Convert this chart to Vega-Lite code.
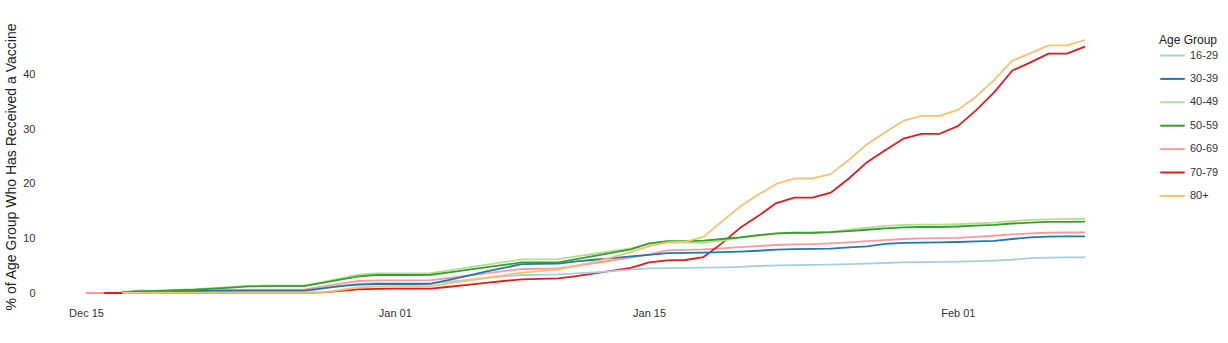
{
  "$schema": "https://vega.github.io/schema/vega-lite/v6.json",
  "width": 999,
  "height": 253,
  "autosize": "none",
  "padding": {"left": 86, "top": 40, "right": 143, "bottom": 50},
  "background": "white",
  "config": {
    "view": {"stroke": null},
    "font": "Liberation Sans"
  },
  "data": {
    "values": [
      {"date": "2020-12-15", "60-69": 0},
      {"date": "2020-12-16", "60-69": 0, "70-79": 0},
      {"date": "2020-12-17", "16-29": 0.1, "30-39": 0.1, "40-49": 0.1, "50-59": 0.1, "60-69": 0.1, "70-79": 0, "80+": 0},
      {"date": "2020-12-18", "16-29": 0.2, "30-39": 0.45, "40-49": 0.35, "50-59": 0.3, "60-69": 0.3, "70-79": 0.02, "80+": 0.02},
      {"date": "2020-12-19", "16-29": 0.25, "30-39": 0.4, "40-49": 0.45, "50-59": 0.4, "60-69": 0.35, "70-79": 0.03, "80+": 0.03},
      {"date": "2020-12-20", "16-29": 0.25, "30-39": 0.4, "40-49": 0.55, "50-59": 0.5, "60-69": 0.4, "70-79": 0.03, "80+": 0.03},
      {"date": "2020-12-21", "16-29": 0.3, "30-39": 0.4, "40-49": 0.7, "50-59": 0.6, "60-69": 0.45, "70-79": 0.03, "80+": 0.03},
      {"date": "2020-12-22", "16-29": 0.3, "30-39": 0.45, "40-49": 0.9, "50-59": 0.8, "60-69": 0.5, "70-79": 0.04, "80+": 0.04},
      {"date": "2020-12-23", "16-29": 0.3, "30-39": 0.45, "40-49": 1.1, "50-59": 1.0, "60-69": 0.55, "70-79": 0.04, "80+": 0.04},
      {"date": "2020-12-24", "16-29": 0.35, "30-39": 0.45, "40-49": 1.35, "50-59": 1.2, "60-69": 0.6, "70-79": 0.05, "80+": 0.05},
      {"date": "2020-12-25", "16-29": 0.35, "30-39": 0.45, "40-49": 1.4, "50-59": 1.25, "60-69": 0.6, "70-79": 0.05, "80+": 0.05},
      {"date": "2020-12-26", "16-29": 0.35, "30-39": 0.45, "40-49": 1.4, "50-59": 1.25, "60-69": 0.6, "70-79": 0.05, "80+": 0.05},
      {"date": "2020-12-27", "16-29": 0.35, "30-39": 0.45, "40-49": 1.4, "50-59": 1.25, "60-69": 0.6, "70-79": 0.05, "80+": 0.05},
      {"date": "2020-12-28", "16-29": 0.8, "30-39": 0.85, "40-49": 2.0, "50-59": 1.85, "60-69": 1.15, "70-79": 0.1, "80+": 0.1},
      {"date": "2020-12-29", "16-29": 1.3, "30-39": 1.25, "40-49": 2.7, "50-59": 2.45, "60-69": 1.7, "70-79": 0.4, "80+": 0.55},
      {"date": "2020-12-30", "16-29": 1.7, "30-39": 1.55, "40-49": 3.35, "50-59": 3.05, "60-69": 2.2, "70-79": 0.65, "80+": 1.05},
      {"date": "2020-12-31", "16-29": 1.8, "30-39": 1.65, "40-49": 3.6, "50-59": 3.3, "60-69": 2.3, "70-79": 0.75, "80+": 1.2},
      {"date": "2021-01-01", "16-29": 1.8, "30-39": 1.65, "40-49": 3.6, "50-59": 3.3, "60-69": 2.3, "70-79": 0.8, "80+": 1.25},
      {"date": "2021-01-02", "16-29": 1.8, "30-39": 1.65, "40-49": 3.6, "50-59": 3.3, "60-69": 2.3, "70-79": 0.8, "80+": 1.25},
      {"date": "2021-01-03", "16-29": 1.8, "30-39": 1.7, "40-49": 3.65, "50-59": 3.35, "60-69": 2.35, "70-79": 0.8, "80+": 1.25},
      {"date": "2021-01-04", "16-29": 2.1, "30-39": 2.4, "40-49": 4.15, "50-59": 3.8, "60-69": 2.75, "70-79": 1.15, "80+": 1.75},
      {"date": "2021-01-05", "16-29": 2.4, "30-39": 3.15, "40-49": 4.65, "50-59": 4.25, "60-69": 3.2, "70-79": 1.5, "80+": 2.25},
      {"date": "2021-01-06", "16-29": 2.75, "30-39": 3.9, "40-49": 5.15, "50-59": 4.7, "60-69": 3.6, "70-79": 1.85, "80+": 2.75},
      {"date": "2021-01-07", "16-29": 3.05, "30-39": 4.6, "40-49": 5.65, "50-59": 5.15, "60-69": 4.0, "70-79": 2.2, "80+": 3.25},
      {"date": "2021-01-08", "16-29": 3.3, "30-39": 5.3, "40-49": 6.15, "50-59": 5.6, "60-69": 4.4, "70-79": 2.5, "80+": 3.75},
      {"date": "2021-01-09", "16-29": 3.35, "30-39": 5.35, "40-49": 6.15, "50-59": 5.6, "60-69": 4.45, "70-79": 2.6, "80+": 4.0},
      {"date": "2021-01-10", "16-29": 3.4, "30-39": 5.4, "40-49": 6.2, "50-59": 5.6, "60-69": 4.5, "70-79": 2.7, "80+": 4.3},
      {"date": "2021-01-11", "16-29": 3.6, "30-39": 5.8, "40-49": 6.7, "50-59": 6.2, "60-69": 5.0, "70-79": 3.1, "80+": 5.0},
      {"date": "2021-01-12", "16-29": 3.8, "30-39": 6.1, "40-49": 7.2, "50-59": 6.8, "60-69": 5.5, "70-79": 3.6, "80+": 5.7},
      {"date": "2021-01-13", "16-29": 4.0, "30-39": 6.4, "40-49": 7.7, "50-59": 7.4, "60-69": 6.0, "70-79": 4.1, "80+": 6.6},
      {"date": "2021-01-14", "16-29": 4.3, "30-39": 6.7, "40-49": 8.2, "50-59": 8.0, "60-69": 6.5, "70-79": 4.6, "80+": 7.5},
      {"date": "2021-01-15", "16-29": 4.5, "30-39": 7.0, "40-49": 9.0, "50-59": 9.1, "60-69": 7.1, "70-79": 5.6, "80+": 8.6},
      {"date": "2021-01-16", "16-29": 4.55, "30-39": 7.3, "40-49": 9.3, "50-59": 9.5, "60-69": 7.8, "70-79": 6.0, "80+": 9.3},
      {"date": "2021-01-17", "16-29": 4.6, "30-39": 7.35, "40-49": 9.25, "50-59": 9.5, "60-69": 7.9, "70-79": 6.05, "80+": 9.4},
      {"date": "2021-01-18", "16-29": 4.65, "30-39": 7.4, "40-49": 9.2, "50-59": 9.6, "60-69": 8.0, "70-79": 6.6, "80+": 10.3},
      {"date": "2021-01-19", "16-29": 4.7, "30-39": 7.5, "40-49": 9.6, "50-59": 9.9, "60-69": 8.2, "70-79": 9.1, "80+": 13.1},
      {"date": "2021-01-20", "16-29": 4.8, "30-39": 7.6, "40-49": 10.1, "50-59": 10.2, "60-69": 8.4, "70-79": 11.9, "80+": 15.8},
      {"date": "2021-01-21", "16-29": 4.95, "30-39": 7.75, "40-49": 10.5, "50-59": 10.6, "60-69": 8.6, "70-79": 14.1, "80+": 18.0},
      {"date": "2021-01-22", "16-29": 5.05, "30-39": 7.95, "40-49": 10.9, "50-59": 10.95, "60-69": 8.8, "70-79": 16.5, "80+": 20.0},
      {"date": "2021-01-23", "16-29": 5.1, "30-39": 8.05, "40-49": 11.0, "50-59": 11.05, "60-69": 8.9, "70-79": 17.5, "80+": 21.0},
      {"date": "2021-01-24", "16-29": 5.15, "30-39": 8.1, "40-49": 11.05, "50-59": 11.05, "60-69": 8.95, "70-79": 17.5, "80+": 21.0},
      {"date": "2021-01-25", "16-29": 5.2, "30-39": 8.15, "40-49": 11.2, "50-59": 11.15, "60-69": 9.1, "70-79": 18.4, "80+": 21.8},
      {"date": "2021-01-26", "16-29": 5.3, "30-39": 8.35, "40-49": 11.6, "50-59": 11.35, "60-69": 9.3, "70-79": 21.0, "80+": 24.4},
      {"date": "2021-01-27", "16-29": 5.4, "30-39": 8.55, "40-49": 12.0, "50-59": 11.6, "60-69": 9.5, "70-79": 24.0, "80+": 27.3},
      {"date": "2021-01-28", "16-29": 5.5, "30-39": 9.0, "40-49": 12.3, "50-59": 11.85, "60-69": 9.7, "70-79": 26.2, "80+": 29.5},
      {"date": "2021-01-29", "16-29": 5.6, "30-39": 9.2, "40-49": 12.5, "50-59": 12.05, "60-69": 9.9, "70-79": 28.3, "80+": 31.6},
      {"date": "2021-01-30", "16-29": 5.65, "30-39": 9.25, "40-49": 12.55, "50-59": 12.1, "60-69": 10.0, "70-79": 29.2, "80+": 32.5},
      {"date": "2021-01-31", "16-29": 5.7, "30-39": 9.3, "40-49": 12.55, "50-59": 12.1, "60-69": 10.05, "70-79": 29.2, "80+": 32.5},
      {"date": "2021-02-01", "16-29": 5.75, "30-39": 9.35, "40-49": 12.65, "50-59": 12.2, "60-69": 10.1, "70-79": 30.6, "80+": 33.6},
      {"date": "2021-02-02", "16-29": 5.85, "30-39": 9.45, "40-49": 12.75, "50-59": 12.35, "60-69": 10.3, "70-79": 33.5, "80+": 36.0},
      {"date": "2021-02-03", "16-29": 5.95, "30-39": 9.55, "40-49": 12.9, "50-59": 12.5, "60-69": 10.5, "70-79": 36.8, "80+": 39.1},
      {"date": "2021-02-04", "16-29": 6.1, "30-39": 9.9, "40-49": 13.2, "50-59": 12.75, "60-69": 10.75, "70-79": 40.8, "80+": 42.6},
      {"date": "2021-02-05", "16-29": 6.4, "30-39": 10.2, "40-49": 13.4, "50-59": 12.9, "60-69": 10.95, "70-79": 42.3, "80+": 44.0},
      {"date": "2021-02-06", "16-29": 6.5, "30-39": 10.35, "40-49": 13.5, "50-59": 13.05, "60-69": 11.05, "70-79": 43.9, "80+": 45.4},
      {"date": "2021-02-07", "16-29": 6.55, "30-39": 10.4, "40-49": 13.55, "50-59": 13.05, "60-69": 11.1, "70-79": 43.9, "80+": 45.4},
      {"date": "2021-02-08", "16-29": 6.55, "30-39": 10.4, "40-49": 13.6, "50-59": 13.1, "60-69": 11.1, "70-79": 45.2, "80+": 46.4}
    ]
  },
  "transform": [
    {"fold": ["16-29", "30-39", "40-49", "50-59", "60-69", "70-79", "80+"], "as": ["group", "pct"]},
    {"filter": "isValid(datum.pct)"}
  ],
  "mark": {"type": "line", "strokeWidth": 1.8, "strokeJoin": "round", "strokeCap": "butt"},
  "encoding": {
    "x": {
      "field": "date",
      "type": "temporal",
      "scale": {"type": "utc", "domain": [{"year": 2020, "month": 12, "date": 15, "utc": true}, {"year": 2021, "month": 2, "date": 8, "utc": true}]},
      "axis": {
        "title": null,
        "format": "%b %d",
        "values": [
          {"year": 2020, "month": 12, "date": 15, "utc": true},
          {"year": 2021, "month": 1, "date": 1, "utc": true},
          {"year": 2021, "month": 1, "date": 15, "utc": true},
          {"year": 2021, "month": 2, "date": 1, "utc": true}
        ],
        "labelFlush": false,
        "labelOverlap": false,
        "domain": false,
        "ticks": false,
        "grid": false,
        "labelPadding": 14,
        "labelFontSize": 11,
        "labelColor": "#333333",
        "labelFont": "Liberation Sans"
      }
    },
    "y": {
      "field": "pct",
      "type": "quantitative",
      "scale": {"domain": [0, 46.4], "nice": false},
      "axis": {
        "title": "% of Age Group Who Has Received a Vaccine",
        "titleFontSize": 14,
        "titleFontWeight": "normal",
        "titleColor": "#222222",
        "titleFont": "Liberation Sans",
        "titlePadding": 4,
        "values": [0, 10, 20, 30, 40],
        "domain": false,
        "ticks": false,
        "grid": false,
        "offset": 49,
        "labelPadding": 2,
        "labelFontSize": 11,
        "labelColor": "#333333",
        "labelFont": "Liberation Sans"
      }
    },
    "color": {
      "field": "group",
      "type": "nominal",
      "scale": {
        "domain": ["16-29", "30-39", "40-49", "50-59", "60-69", "70-79", "80+"],
        "range": ["#a6cee3", "#1f78b4", "#b2df8a", "#33a02c", "#fb9a99", "#e31a1c", "#fdbf6f"]
      },
      "legend": {
        "title": "Age Group",
        "orient": "none",
        "legendX": 1073,
        "legendY": -5,
        "titleFontSize": 12,
        "titleFontWeight": "normal",
        "titleColor": "#222222",
        "titleFont": "Liberation Sans",
        "titlePadding": -5,
        "labelFontSize": 11,
        "labelColor": "#333333",
        "labelFont": "Liberation Sans",
        "symbolType": "stroke",
        "symbolSize": 600,
        "symbolStrokeWidth": 2,
        "rowPadding": 4.4,
        "labelOffset": 4
      }
    }
  }
}
